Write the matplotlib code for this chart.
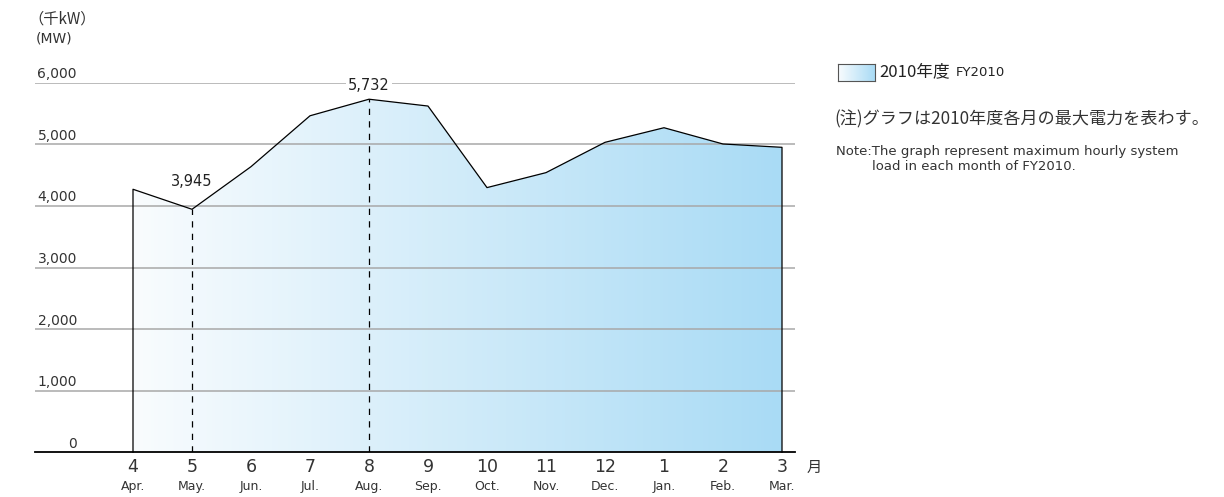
import numpy as np
import matplotlib
matplotlib.use("Agg")
import matplotlib.pyplot as plt
from matplotlib.colors import LinearSegmentedColormap
from matplotlib.patches import PathPatch
from matplotlib.path import Path

plt.rcParams['font.family'] = ['DejaVu Sans', 'Noto Sans CJK JP']

# data (MW)
month_nums = ['4', '5', '6', '7', '8', '9', '10', '11', '12', '1', '2', '3']
month_abbr = ['Apr.', 'May.', 'Jun.', 'Jul.', 'Aug.', 'Sep.', 'Oct.', 'Nov.',
              'Dec.', 'Jan.', 'Feb.', 'Mar.']
load_mw = [4270, 3945, 4637, 5463, 5732, 5621, 4297, 4540, 5032, 5269, 5005, 4951]
y_ticks = [0, 1000, 2000, 3000, 4000, 5000, 6000]
marked = {1: '3,945', 4: '5,732'}

W, H = 1224, 497
fig = plt.figure(figsize=(W / 100, H / 100), dpi=100)
ax = fig.add_axes([35 / W, 1 - 452.3 / H, 760 / W, (452.3 - 82.7) / H])
ax.axis('off')

x = np.arange(len(load_mw))
y = np.array(load_mw, dtype=float)

grad_cmap = LinearSegmentedColormap.from_list('g', ['#f9fcfe', '#a9dbf5'])

# gradient fill under the curve
verts = np.vstack([[x[0], 0], np.column_stack([x, y]), [x[-1], 0], [x[0], 0]])
patch = PathPatch(Path(verts), facecolor='none', edgecolor='none')
ax.add_patch(patch)
grad = np.linspace(0, 1, 256).reshape(1, -1)
im = ax.imshow(grad, extent=[x[0], x[-1], 0, 6000], aspect='auto',
               cmap=grad_cmap, origin='lower', zorder=1)
im.set_clip_path(patch)

xmin, xmax = (35 - 133) / 59, (795 - 133) / 59
ax.set_xlim(xmin, xmax)
ax.set_ylim(0, 6000)

# grid lines and labels
for t in y_ticks[1:]:
    ax.plot([xmin, xmax], [t, t], color='#a8a8a8', lw=1.1, zorder=2)
for t in y_ticks:
    ax.text((77 - 133) / 59, t + 72, f'{t:,}', ha='right', va='baseline',
            fontsize=10, color='#333333')
ax.plot([xmin, xmax], [0, 0], color='black', lw=1.3, zorder=3, clip_on=False)

# outline
ax.plot(np.r_[x[0], x, x[-1]], np.r_[0, y, 0], color='black', lw=0.9,
        zorder=3, clip_on=False)

for i in marked:
    ax.plot([x[i], x[i]], [0, y[i]], color='black', lw=0.9,
            linestyle=(0, (5, 5)), zorder=3)
ax.text(x[1], y[1] + 330, marked[1], ha='center', va='bottom', fontsize=10.5,
        color='#222222', zorder=4)
ax.text(x[4], y[4] + 100, marked[4], ha='center', va='bottom', fontsize=10.5,
        color='#222222', zorder=4,
        bbox=dict(facecolor='white', edgecolor='none', pad=1.5))

# month labels
for i in range(len(x)):
    ax.text(x[i], -239, month_nums[i], ha='center', va='center',
            fontsize=12.5, color='#333333', clip_on=False)
    ax.text(x[i], -563, month_abbr[i], ha='center', va='center',
            fontsize=9, color='#333333', clip_on=False)
ax.text((814 - 133) / 59, -239, '月', ha='center', va='center',
        fontsize=11, color='#333333', family=['Noto Sans CJK JP'])

# unit labels
fig.text(28 / W, 1 - 19 / H, '（千kW）', ha='left', va='center', fontsize=11,
         color='#333333', family=['Noto Sans CJK JP', 'DejaVu Sans'])
fig.text(36 / W, 1 - 38 / H, '(MW)', ha='left', va='center', fontsize=10,
         color='#333333')

# legend
lax = fig.add_axes([838 / W, 1 - 81 / H, 37 / W, 17 / H])
lax.imshow(grad, aspect='auto', cmap=grad_cmap, extent=[0, 1, 0, 1])
lax.set_xticks([])
lax.set_yticks([])
for s in lax.spines.values():
    s.set_color('#555555')
    s.set_linewidth(0.8)
fig.text(879 / W, 1 - 72 / H, '2010年度', ha='left', va='center', fontsize=12,
         color='#222222', family=['Noto Sans CJK JP', 'DejaVu Sans'])
fig.text(956 / W, 1 - 72 / H, 'FY2010', ha='left', va='center', fontsize=9.5,
         color='#222222')

# notes
fig.text(834 / W, 1 - 119 / H, '(注)グラフは2010年度各月の最大電力を表わす。',
         ha='left', va='center', fontsize=12.3, color='#333333',
         family=['Noto Sans CJK JP', 'DejaVu Sans'])
fig.text(836 / W, 1 - 151 / H, 'Note:The graph represent maximum hourly system',
         ha='left', va='center', fontsize=9.5, color='#333333')
fig.text(872 / W, 1 - 167 / H, 'load in each month of FY2010.',
         ha='left', va='center', fontsize=9.5, color='#333333')

fig.savefig('out.png', dpi=100)
